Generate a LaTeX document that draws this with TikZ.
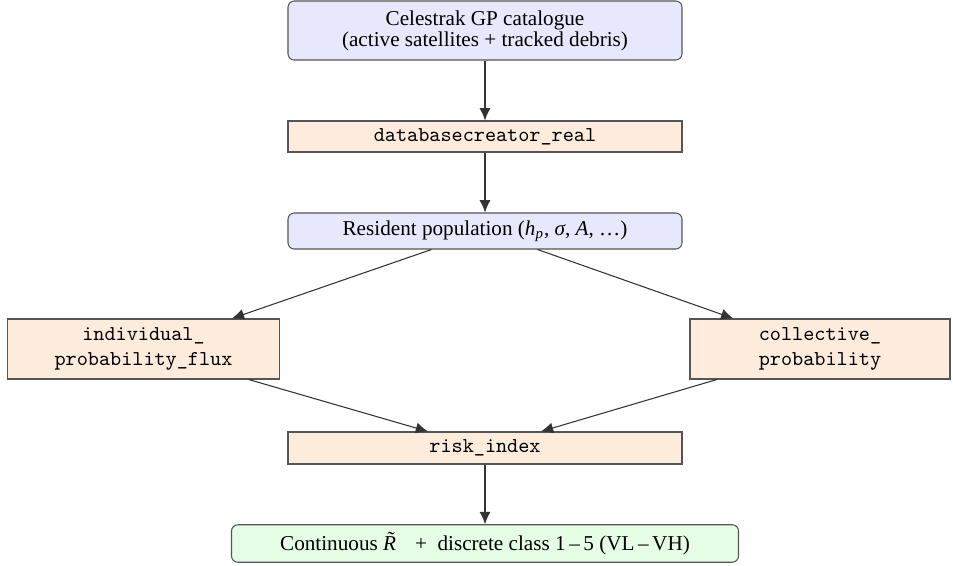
\documentclass[tikz,border=0pt]{standalone}
\usepackage{fontspec}
\setmainfont{Liberation Serif}
\usetikzlibrary{arrows.meta}
\definecolor{bluefill}{RGB}{232,232,252}
\definecolor{orangefill}{RGB}{253,236,220}
\definecolor{greenfill}{RGB}{228,253,228}
\definecolor{edgegray}{RGB}{85,85,85}
\newcommand{\mi}[1]{\textit{#1}}
\tikzset{
  base/.style={draw=edgegray, line width=0.5pt, inner sep=0pt, align=center, font=\fontsize{10}{11}\selectfont},
  datanode/.style={base, fill=bluefill, rounded corners=3pt},
  procnode/.style={base, fill=orangefill, font=\ttfamily\fontsize{10}{11.5}\selectfont},
  outnode/.style={base, fill=greenfill, rounded corners=3pt},
  conn/.style={draw=black!80, line width=0.5pt, -{Latex[length=5.8pt,width=5.2pt]}},
}
\begin{document}
\begin{tikzpicture}[x=0.4722pt,y=-0.4722pt]
\useasboundingbox (0,0) rectangle (953,565);
\node[datanode, minimum width=394*0.4722pt, minimum height=59*0.4722pt] (cat) at (485,30.5)
  {Celestrak GP catalogue\\[-1pt](active satellites + tracked debris)};
\node[procnode, minimum width=394*0.4722pt, minimum height=31*0.4722pt] (db) at (485,136.5)
  {databasecreator\_real};
\node[datanode, minimum width=394*0.4722pt, minimum height=36*0.4722pt] (res) at (485,231)
  {Resident population (\mi{h}\textsubscript{\mi{p}}, \mi{σ}, \mi{A}, \ldots)};
\node[procnode, minimum width=272*0.4722pt, minimum height=60*0.4722pt] (ind) at (143.5,349)
  {individual\_\\probability\_flux};
\node[procnode, minimum width=260*0.4722pt, minimum height=60*0.4722pt] (col) at (820,349)
  {collective\_\\probability};
\node[procnode, minimum width=394*0.4722pt, minimum height=32*0.4722pt] (risk) at (485,448)
  {risk\_index};
\node[outnode, minimum width=507*0.4722pt, minimum height=37.5*0.4722pt] (out) at (485,543.5)
  {Continuous \mi{\~{R}} \ + \ discrete class 1\,–\,5 (VL\,–\,VH)};
\draw[conn] (cat) -- (db);
\draw[conn] (db) -- (res);
\draw[conn] (res) -- (ind);
\draw[conn] (res) -- (col);
\draw[conn] (ind) -- (risk);
\draw[conn] (col) -- (risk);
\draw[conn] (risk) -- (out);
\end{tikzpicture}
\end{document}
